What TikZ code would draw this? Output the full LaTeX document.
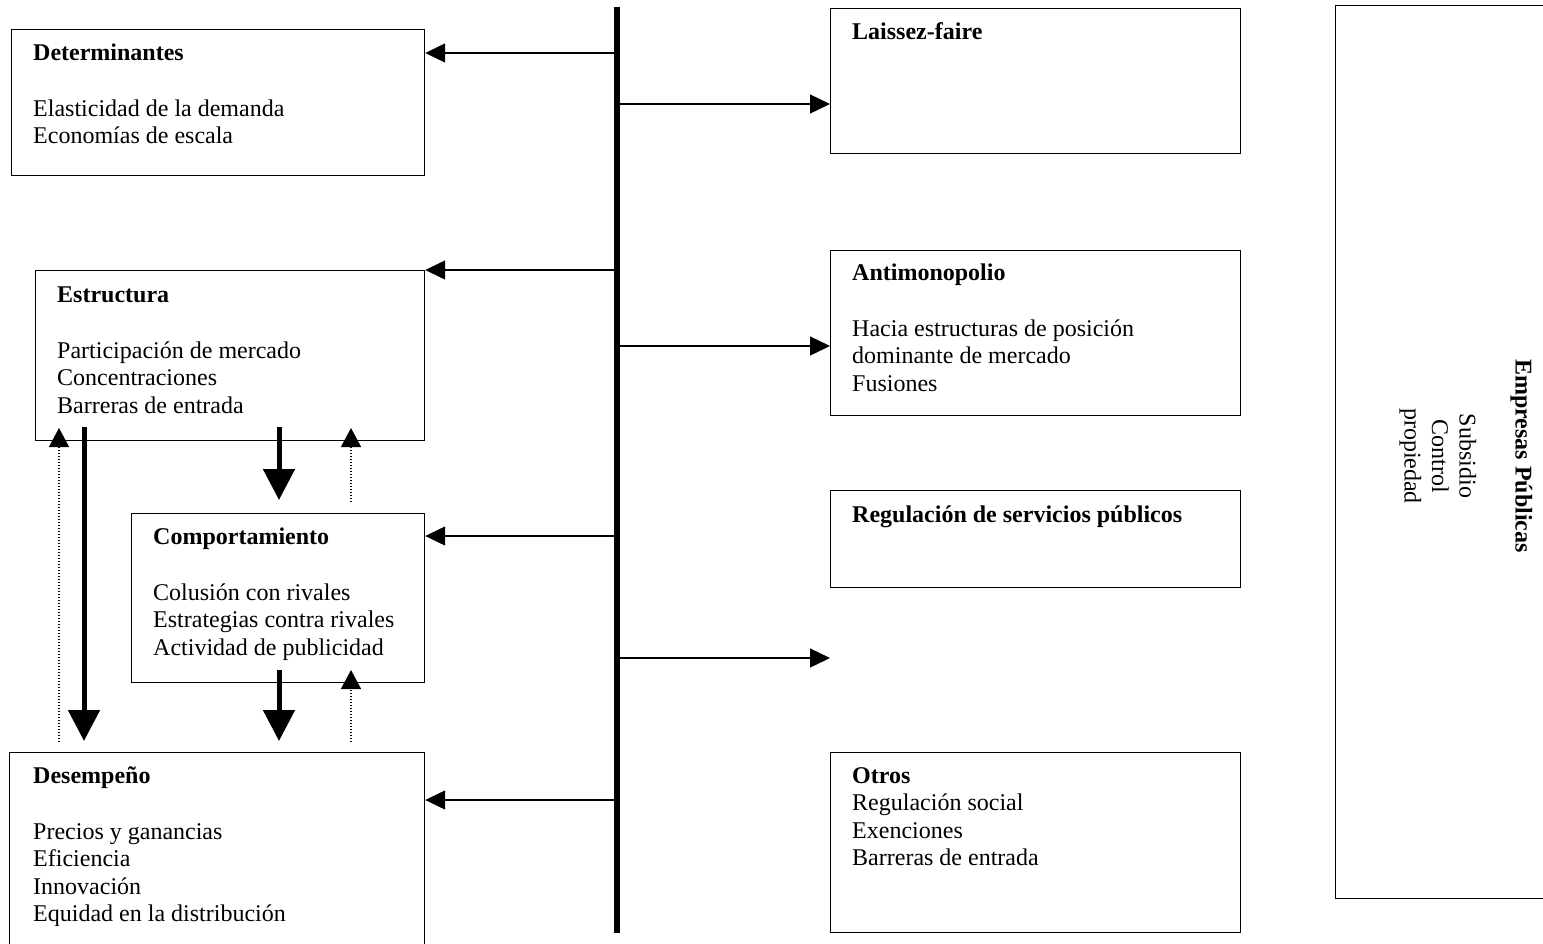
\documentclass[tikz,border=0pt]{standalone}
\usepackage{fontspec}
\setmainfont{Liberation Serif}
\usetikzlibrary{arrows.meta}
\tikzset{
  box/.style={draw, line width=1.2pt, inner sep=0pt, anchor=north west},
  lbl/.style={anchor=base west, inner sep=0pt, font=\fontsize{24}{27.5}\selectfont},
  conn/.style={line width=1.3pt, -{Triangle[length=20pt,width=19pt]}},
  bigarrow/.style={line width=5pt, -{Triangle[length=31pt,width=31pt]}},
  dotarrow/.style={line width=1.4pt, dash pattern=on 1.4pt off 1.6pt, -{Triangle[length=19pt,width=20pt]}},
  bar/.style={line width=5.5pt}
}
\newcommand{\boxtext}[1]{\parbox[t]{390pt}{\raggedright #1}}
\begin{document}
\begin{tikzpicture}[x=1pt,y=-1pt]
\useasboundingbox (0,0) rectangle (1543,943);
\clip (0,0) rectangle (1543,943);

% left boxes
\node[box, minimum width=413pt, minimum height=146pt] (det) at (11,29) {};
\node[box, minimum width=389pt, minimum height=170pt] (est) at (35,270) {};
\node[box, minimum width=293pt, minimum height=169pt] (comp) at (131,513) {};
\node[box, minimum width=415pt, minimum height=200pt] (des) at (9,752) {};

% right boxes
\node[box, minimum width=410pt, minimum height=145pt] (lais) at (830,8) {};
\node[box, minimum width=410pt, minimum height=165pt] (anti) at (830,250) {};
\node[box, minimum width=410pt, minimum height=97pt] (reg) at (830,490) {};
\node[box, minimum width=410pt, minimum height=180pt] (otros) at (830,752) {};
\node[box, minimum width=230pt, minimum height=893pt] (emp) at (1335,5) {};

% texts
\node[lbl] (detT) at ([shift={(22,31)}]det.north west) {\boxtext{\textbf{Determinantes}\\[28.5pt]Elasticidad de la demanda\\Economías de escala}};
\node[lbl] (estT) at ([shift={(22,32)}]est.north west) {\boxtext{\textbf{Estructura}\\[28.5pt]Participación de mercado\\Concentraciones\\Barreras de entrada}};
\node[lbl] (compT) at ([shift={(22,31)}]comp.north west) {\boxtext{\textbf{Comportamiento}\\[28.5pt]Colusión con rivales\\Estrategias contra rivales\\Actividad de publicidad}};
\node[lbl] (desT) at ([shift={(24,31)}]des.north west) {\boxtext{\textbf{Desempeño}\\[28.5pt]Precios y ganancias\\Eficiencia\\Innovación\\Equidad en la distribución}};
\node[lbl] (laisT) at ([shift={(22,31)}]lais.north west) {\boxtext{\textbf{Laissez-faire}}};
\node[lbl] (antiT) at ([shift={(22,30)}]anti.north west) {\boxtext{\textbf{Antimonopolio}\\[28.5pt]Hacia estructuras de posición\\dominante de mercado\\Fusiones}};
\node[lbl] (regT) at ([shift={(22,32)}]reg.north west) {\boxtext{\textbf{Regulación de servicios públicos}}};
\node[lbl] (otrosT) at ([shift={(22,31)}]otros.north west) {\boxtext{\textbf{Otros}\\Regulación social\\Exenciones\\Barreras de entrada}};
\node[inner sep=0pt, rotate=-90, align=center, font=\fontsize{24}{27.5}\selectfont] (empT) at (1466,456)
  {\textbf{Empresas Públicas}\\[28.5pt]Subsidio\\Control\\propiedad};

% central bar
\coordinate (bartop) at (617,7);
\coordinate (barbot) at (617,933);
\draw[bar] (bartop) -- (barbot);

\coordinate (b1) at (617,53);
\coordinate (b2) at (617,104);
\coordinate (b3) at (617,270);
\coordinate (b4) at (617,346);
\coordinate (b5) at (617,536);
\coordinate (b6) at (617,658);
\coordinate (b7) at (617,800);
\coordinate (free) at (830,658);

\draw[conn] (b1) -- (det.east |- b1);
\draw[conn] (b2) -- (lais.west |- b2);
\draw[conn] (b3) -- (est.north east);
\draw[conn] (b4) -- (anti.west |- b4);
\draw[conn] (b5) -- (comp.east |- b5);
\draw[conn] (b6) -- (free);
\draw[conn] (b7) -- (des.east |- b7);

% thick causal arrows
\coordinate (s1) at (84,427);   \coordinate (e1) at (84,741);
\coordinate (s2) at (279,427);  \coordinate (e2) at (279,500);
\coordinate (s3) at (279,670);  \coordinate (e3) at (279,741);
\draw[bigarrow] (s1) -- (e1);
\draw[bigarrow] (s2) -- (e2);
\draw[bigarrow] (s3) -- (e3);

% dotted feedback arrows
\coordinate (d1s) at (59,742);  \coordinate (d1e) at (59,428);
\coordinate (d2s) at (351,502); \coordinate (d2e) at (351,428);
\coordinate (d3s) at (351,742); \coordinate (d3e) at (351,670);
\draw[dotarrow] (d1s) -- (d1e);
\draw[dotarrow] (d2s) -- (d2e);
\draw[dotarrow] (d3s) -- (d3e);
\end{tikzpicture}
\end{document}
